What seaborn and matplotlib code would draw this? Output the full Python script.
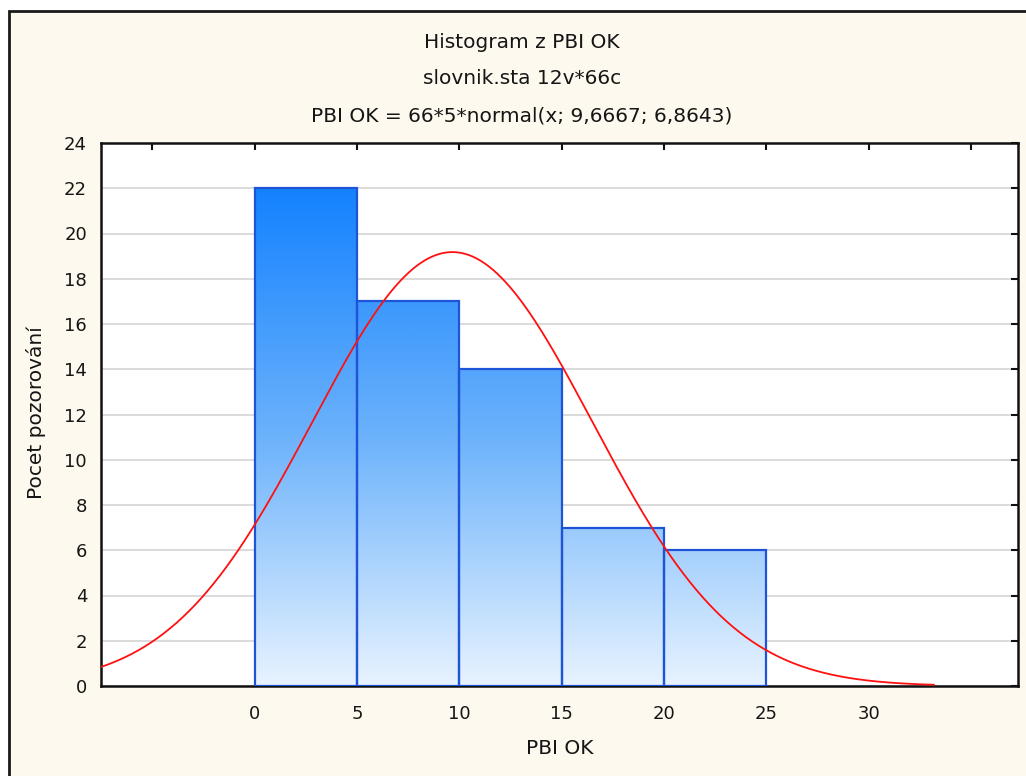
import numpy as np
import pandas as pd
import matplotlib
matplotlib.use("Agg")
import matplotlib.pyplot as plt
import seaborn as sns
from matplotlib.colors import LinearSegmentedColormap
from matplotlib.patches import Rectangle

# Histogram data: bin edges and observed counts
bin_edges = [0, 5, 10, 15, 20, 25]
counts = [22, 17, 14, 7, 6]
n_obs = 66
bin_width = 5
mean_val = 9.6667
sd_val = 6.8643

title_lines = ["Histogram z PBI OK",
               "slovnik.sta 12v*66c",
               "PBI OK = 66*5*normal(x; 9,6667; 6,8643)"]
x_label = "PBI OK"
y_label = "Pocet pozorování"
x_ticks = [-5, 0, 5, 10, 15, 20, 25, 30, 35]
x_ticklabels = ["", "0", "5", "10", "15", "20", "25", "30", ""]
y_ticks = list(range(0, 25, 2))

sns.set_theme(style="white")
plt.rcParams["font.family"] = ["DejaVu Sans"]

W, H = 1026, 776
fig = plt.figure(figsize=(W / 100, H / 100), dpi=100)
fig.patch.set_facecolor("white")

# cream panel with dark frame (extends past right/bottom edges)
fig.patches.append(Rectangle((9 / W, -0.1), 1.2, (H - 11) / H + 0.1,
                             transform=fig.transFigure, facecolor="#FEF9EE",
                             edgecolor="#1a1a1a", linewidth=2, zorder=-5))

ax = fig.add_axes([101 / W, (H - 686) / H, (1018 - 101) / W, (686 - 143) / H])
ax.set_zorder(2)
ax.set_facecolor("white")

bin_starts = bin_edges[:-1]
df = pd.DataFrame({"x": [b + bin_width / 2 for b in bin_starts], "n": counts})
sns.histplot(data=df, x="x", weights="n", bins=bin_edges, ax=ax,
             facecolor="none", edgecolor="#1E55D8", linewidth=1.6, zorder=3)

# vertical gradient fill for each bar, shaded by absolute height
cmap = LinearSegmentedColormap.from_list("bars", ["#E8F3FF", "#6CB2FB", "#1482FF"])
grad = np.linspace(0, 1, 256).reshape(-1, 1)
for p in ax.patches:
    x0 = p.get_x()
    w = p.get_width()
    im = ax.imshow(grad, cmap=cmap, origin="lower", aspect="auto",
                   extent=[x0, x0 + w, 0, 22], zorder=2, vmin=0, vmax=1,
                   interpolation="bilinear")
    im.set_clip_path(p)

# fitted normal curve: N * width * pdf
xs = np.linspace(-7.5, 33.2, 400)
ys = n_obs * bin_width * np.exp(-0.5 * ((xs - mean_val) / sd_val) ** 2) / (sd_val * np.sqrt(2 * np.pi))
sns.lineplot(x=xs, y=ys, ax=ax, color="#FF1010", linewidth=1.3, zorder=4)

ax.set_xlim(-7.5, 37.3)
ax.set_ylim(0, 24)
ax.set_xticks(x_ticks)
ax.set_xticklabels(x_ticklabels)
ax.set_yticks(y_ticks)
ax.yaxis.grid(True, color="#D8D8D8", linewidth=1.3, zorder=0)
ax.xaxis.grid(False)
ax.set_axisbelow(True)
ax.tick_params(axis="both", which="both", direction="in", length=5, width=1.5,
               color="#111111", top=True, right=True, labelsize=13,
               labelcolor="#151515")
ax.tick_params(axis="x", pad=14)
ax.tick_params(axis="y", pad=10)
for s in ax.spines.values():
    s.set_color("#111111")
    s.set_linewidth(1.8)
    s.set_visible(True)

ax.set_xlabel("")
ax.set_ylabel("")
fig.text(560 / W, 1 - 748 / H, x_label, ha="center", va="center", fontsize=14.5, color="#151515")
fig.text(36 / W, 1 - 413 / H, y_label, ha="center", va="center", rotation=90,
         fontsize=14.5, color="#151515")
for txt, yp in zip(title_lines, [42, 79, 116]):
    fig.text(522 / W, 1 - yp / H, txt, ha="center", va="center", fontsize=14.5, color="#151515")

fig.savefig("out.png", dpi=100, facecolor=fig.get_facecolor())
